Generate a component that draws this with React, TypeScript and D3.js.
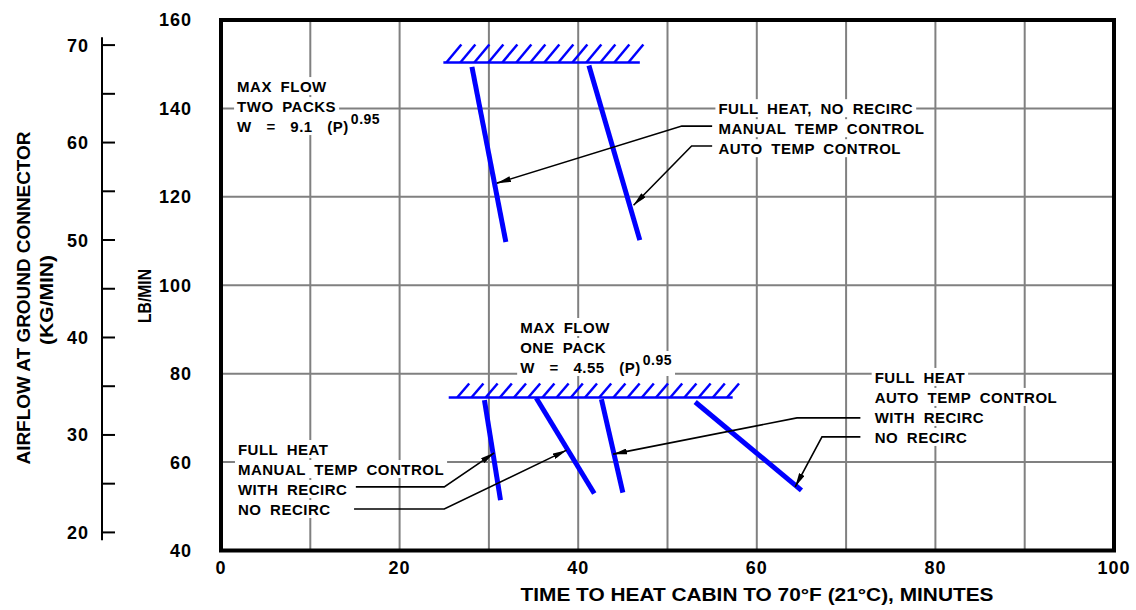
import React, { useEffect, useRef } from 'react';
import * as d3 from 'd3';

const WIDTH = 1136;
const HEIGHT = 610;
const MARGIN = { top: 20, right: 22, bottom: 59.5, left: 221 };
const LB_PER_KG = 2.20462;
const FONT = "'Liberation Sans', Arial, sans-serif";
const BLUE = '#0000ff';
const GRID = '#808080';

const xTicks = [0, 20, 40, 60, 80, 100];
const xGrid = [10, 20, 30, 40, 50, 60, 70, 80, 90];
const lbTicks = [40, 60, 80, 100, 120, 140, 160];
const lbGrid = [60, 80, 100, 120, 140];
const kgTicks = [20, 30, 40, 50, 60, 70];
const kgMinorTicks = [25, 35, 45, 55, 65];
const kgAxisExtent = [19.2, 70.8];

// max flow limits (minutes from / to, lb/min)
const maxFlowTwoPacks = { from: 24.9, to: 46.9, lb: 150.4 };
const maxFlowOnePack = { from: 25.5, to: 57.3, lb: 74.6 };

// heat-up curves, [minutes, lb/min] at each end
const twoPackManual = [[28.1, 149.4], [31.9, 109.8]];
const twoPackAuto = [[41.2, 149.7], [46.9, 110.2]];
const onePackManualRecirc = [[29.5, 74.0], [31.3, 51.4]];
const onePackManualNoRecirc = [[35.3, 74.5], [41.8, 52.9]];
const onePackAutoRecirc = [[42.6, 74.2], [45.0, 53.1]];
const onePackAutoNoRecirc = [[53.1, 73.6], [65.0, 53.6]];
const curves = [
  twoPackManual, twoPackAuto,
  onePackManualRecirc, onePackManualNoRecirc, onePackAutoRecirc, onePackAutoNoRecirc,
];

// leader lines: label end -> bend -> arrow tip
const leaders = [
  [[55.0, 136.0], [51.6, 136.0], [30.9, 123.1]],
  [[55.0, 131.5], [52.7, 131.5], [46.2, 118.1]],
  [[15.1, 54.4], [25.0, 54.4], [30.6, 62.1]],
  [[14.9, 49.4], [25.0, 49.4], [38.7, 62.7]],
  [[71.6, 70.0], [64.5, 70.0], [43.9, 61.8]],
  [[71.6, 65.7], [67.3, 65.7], [64.3, 54.4]],
];

const twoPackLabel = ['MAX FLOW', 'TWO PACKS', 'W = 9.1 (P)'];
const onePackLabel = ['MAX FLOW', 'ONE PACK', 'W = 4.55 (P)'];
const twoPackCurveLabel = ['FULL HEAT, NO RECIRC', 'MANUAL TEMP CONTROL', 'AUTO TEMP CONTROL'];
const manualLabel = ['FULL HEAT', 'MANUAL TEMP CONTROL', 'WITH RECIRC', 'NO RECIRC'];
const autoLabel = ['FULL HEAT', 'AUTO TEMP CONTROL', 'WITH RECIRC', 'NO RECIRC'];
const exponent = '0.95';

const labelBlocks = [
  { rows: twoPackLabel, at: [1.8, 143.7], exp: true },
  { rows: onePackLabel, at: [33.5, 89.2], exp: true },
  { rows: twoPackCurveLabel, at: [55.7, 138.7], exp: false },
  { rows: manualLabel, at: [1.9, 61.6], exp: false },
  { rows: autoLabel, at: [73.2, 77.9], exp: false },
];

const App = () => {
  const ref = useRef<SVGSVGElement>(null);

  useEffect(() => {
    if (!ref.current) return;
    const svg = d3.select(ref.current);
    svg.selectAll('*').remove();

    const x = d3.scaleLinear().domain([0, 100]).range([MARGIN.left, WIDTH - MARGIN.right]);
    const y = d3.scaleLinear().domain([40, 160]).range([HEIGHT - MARGIN.bottom, MARGIN.top]);
    const yKg = (kg: number) => y(kg * LB_PER_KG);

    svg.append('rect').attr('width', WIDTH).attr('height', HEIGHT).attr('fill', '#fff');

    const defs = svg.append('defs');
    defs.append('marker')
      .attr('id', 'arrow')
      .attr('viewBox', '0 0 14 6')
      .attr('refX', 14)
      .attr('refY', 3)
      .attr('markerWidth', 14)
      .attr('markerHeight', 6)
      .attr('markerUnits', 'userSpaceOnUse')
      .attr('orient', 'auto')
      .append('path')
      .attr('d', 'M0,0 L14,3 L0,6 Z')
      .attr('fill', '#000');

    // grid
    const grid = svg.append('g').attr('stroke', GRID).attr('stroke-width', 2);
    grid.selectAll('.vx').data(xGrid).enter().append('line')
      .attr('x1', (d) => x(d)).attr('x2', (d) => x(d))
      .attr('y1', y(160)).attr('y2', y(40));
    grid.selectAll('.hy').data(lbGrid).enter().append('line')
      .attr('x1', x(0)).attr('x2', x(100))
      .attr('y1', (d) => y(d)).attr('y2', (d) => y(d));

    // frame
    svg.append('rect')
      .attr('x', x(0)).attr('y', y(160))
      .attr('width', x(100) - x(0)).attr('height', y(40) - y(160))
      .attr('fill', 'none').attr('stroke', '#000').attr('stroke-width', 4);

    const txt = (g: any) => g
      .attr('font-family', FONT)
      .attr('font-weight', 'bold')
      .attr('fill', '#000');

    // lb/min axis labels
    svg.append('g').call(txt).attr('font-size', 18).attr('letter-spacing', 1)
      .selectAll('text').data(lbTicks).enter().append('text')
      .attr('x', 192).attr('y', (d) => y(d)).attr('dy', '0.36em')
      .attr('text-anchor', 'end').text((d) => d);

    // kg/min axis
    const kgAxis = svg.append('g');
    kgAxis.append('line')
      .attr('x1', 102).attr('x2', 102)
      .attr('y1', yKg(kgAxisExtent[1])).attr('y2', yKg(kgAxisExtent[0]))
      .attr('stroke', '#000').attr('stroke-width', 2);
    kgAxis.selectAll('.t').data([...kgTicks, ...kgMinorTicks]).enter().append('line')
      .attr('x1', 102).attr('x2', 115)
      .attr('y1', (d) => yKg(d)).attr('y2', (d) => yKg(d))
      .attr('stroke', '#000').attr('stroke-width', 2);
    kgAxis.append('g').call(txt).attr('font-size', 18).attr('letter-spacing', 1)
      .selectAll('text').data(kgTicks).enter().append('text')
      .attr('x', 89).attr('y', (d) => yKg(d)).attr('dy', '0.36em')
      .attr('text-anchor', 'end').text((d) => d);

    // x axis labels
    svg.append('g').call(txt).attr('font-size', 18).attr('letter-spacing', 1)
      .selectAll('text').data(xTicks).enter().append('text')
      .attr('x', (d) => x(d)).attr('y', 574)
      .attr('text-anchor', 'middle').text((d) => d);

    // axis titles
    svg.append('text').call(txt).attr('font-size', 19)
      .attr('x', 757).attr('y', 601).attr('text-anchor', 'middle')
      .attr('textLength', 473).attr('lengthAdjust', 'spacingAndGlyphs')
      .text('TIME TO HEAT CABIN TO 70°F (21°C), MINUTES');
    svg.append('text').call(txt).attr('font-size', 19)
      .attr('transform', 'translate(30,298) rotate(-90)').attr('text-anchor', 'middle')
      .attr('textLength', 333).attr('lengthAdjust', 'spacingAndGlyphs')
      .text('AIRFLOW AT GROUND CONNECTOR');
    svg.append('text').call(txt).attr('font-size', 18)
      .attr('transform', 'translate(53,300) rotate(-90)').attr('text-anchor', 'middle')
      .attr('textLength', 90).attr('lengthAdjust', 'spacingAndGlyphs')
      .text('(KG/MIN)');
    svg.append('text').call(txt).attr('font-size', 18)
      .attr('transform', 'translate(151,296) rotate(-90)').attr('text-anchor', 'middle')
      .attr('textLength', 54).attr('lengthAdjust', 'spacingAndGlyphs')
      .text('LB/MIN');

    // labels, with white masks drawn under all of them
    const masks = svg.append('g').attr('fill', '#fff');
    const labels = svg.append('g');
    labelBlocks.forEach((b) => {
      b.rows.forEach((row, i) => {
        const isFormula = b.exp && i === b.rows.length - 1;
        const t = labels.append('text').call(txt)
          .attr('font-size', 15).attr('letter-spacing', 0.5)
          .attr('word-spacing', isFormula ? 10 : 4)
          .attr('x', x(b.at[0])).attr('y', y(b.at[1]) + i * 20)
          .text(row);
        if (isFormula) {
          t.append('tspan').attr('font-size', 14).attr('dx', 2).attr('dy', -8).text(exponent);
        }
        const bb = (t.node() as SVGTextElement).getBBox();
        masks.append('rect')
          .attr('x', bb.x - 3).attr('y', bb.y - 1)
          .attr('width', bb.width + 6).attr('height', bb.height + 1);
      });
    });

    // max flow limits with hatching
    const hatch = (m: { from: number; to: number; lb: number }, h: number, dx: number, step: number, start: number) => {
      const g = svg.append('g').attr('stroke', BLUE).attr('stroke-width', 2.5);
      g.append('line')
        .attr('x1', x(m.from)).attr('x2', x(m.to))
        .attr('y1', y(m.lb)).attr('y2', y(m.lb));
      const xs = d3.range(x(m.from) + start, x(m.to) + 1, step);
      g.selectAll('.h').data(xs).enter().append('line')
        .attr('x1', (d) => d).attr('y1', y(m.lb))
        .attr('x2', (d) => d + dx).attr('y2', y(m.lb) - h);
    };
    hatch(maxFlowTwoPacks, 18, 15, 14, 3);
    hatch(maxFlowOnePack, 14, 12, 14.2, 8.5);

    // heat-up curves
    const line = d3.line<number[]>().x((d) => x(d[0])).y((d) => y(d[1]));
    svg.append('g').selectAll('path').data(curves).enter().append('path')
      .attr('d', (d) => line(d))
      .attr('fill', 'none').attr('stroke', BLUE).attr('stroke-width', 5);

    // leaders
    svg.append('g').selectAll('path').data(leaders).enter().append('path')
      .attr('d', (d) => line(d))
      .attr('fill', 'none').attr('stroke', '#000').attr('stroke-width', 1.6)
      .attr('marker-end', 'url(#arrow)');
  }, []);

  return (
    <svg
      ref={ref}
      width={WIDTH}
      height={HEIGHT}
      style={{ position: 'absolute', left: 0, top: 0, display: 'block' }}
    />
  );
};

export default App;
